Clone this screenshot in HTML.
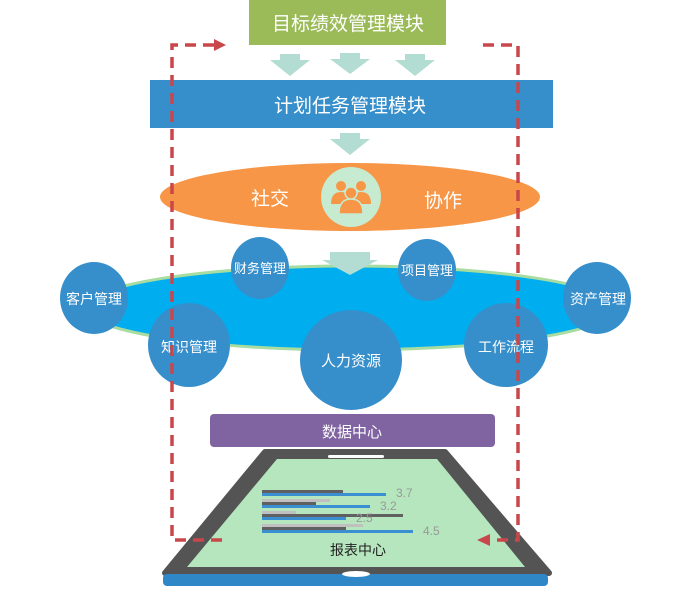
<!DOCTYPE html>
<html><head><meta charset="utf-8"><style>
body{margin:0;width:690px;height:588px;background:#fff;overflow:hidden}
text{font-family:"Liberation Sans","Noto Sans CJK SC",sans-serif}
</style></head><body>
<svg width="690" height="588" viewBox="0 0 690 588" xmlns="http://www.w3.org/2000/svg">
<rect x="249" y="0" width="197" height="45" fill="#9bbb59"/>
<text x="348" y="30" font-size="19" fill="#fff" text-anchor="middle">目标绩效管理模块</text>
<g fill="#b3ddd3">
<polygon points="280,54 300,54 300,60 310,60 290,76 270,60 280,60"/>
<polygon points="340,53 360,53 360,59 370,59 350,74 330,59 340,59"/>
<polygon points="405,54 425,54 425,60 435,60 415,76 395,60 405,60"/>
<polygon points="340,133 360,133 360,139 370,139 350,155 330,139 340,139"/>
</g>
<rect x="150" y="80" width="403" height="48" fill="#368fcb"/>
<text x="350" y="112" font-size="19" fill="#fff" text-anchor="middle">计划任务管理模块</text>
<ellipse cx="350" cy="197" rx="190" ry="34" fill="#f79646"/>
<text x="270" y="205" font-size="19" fill="#fff" text-anchor="middle">社交</text>
<text x="443" y="207" font-size="19" fill="#fff" text-anchor="middle">协作</text>
<circle cx="351" cy="197" r="30" fill="#c6ebd0"/>
<g fill="#f79646">
<circle cx="341" cy="186" r="5"/><circle cx="361" cy="186" r="5"/>
<path d="M331,204 q0,-12 10,-12 q10,0 10,12z"/><path d="M351,204 q0,-12 10,-12 q10,0 10,12z"/>
<circle cx="351" cy="193" r="6" stroke="#c6ebd0" stroke-width="1.5"/>
<path d="M339,214 q0,-15 12,-15 q12,0 12,15z" stroke="#c6ebd0" stroke-width="1.5"/>
</g>
<ellipse cx="350" cy="308" rx="265" ry="42" fill="#00aeef" stroke="#a8dca0" stroke-width="3"/>
<polygon points="330,252 370,252 370,260 378,260 350,275 322,260 330,260" fill="#b3ddd3"/>
<g fill="#368fcb">
<ellipse cx="94" cy="298" rx="34" ry="36"/>
<ellipse cx="260" cy="268" rx="29" ry="31"/>
<ellipse cx="427" cy="270" rx="29" ry="31"/>
<ellipse cx="597" cy="298" rx="34" ry="36"/>
<ellipse cx="189" cy="345" rx="41" ry="42"/>
<ellipse cx="351" cy="360" rx="51" ry="50"/>
<ellipse cx="506" cy="345" rx="42" ry="42"/>
</g>
<g fill="#fff" font-size="14" text-anchor="middle">
<text x="94" y="304">客户管理</text>
<text x="260" y="273" font-size="13">财务管理</text>
<text x="427" y="275" font-size="13">项目管理</text>
<text x="598" y="304">资产管理</text>
<text x="189" y="352">知识管理</text>
<text x="351" y="366" font-size="15">人力资源</text>
<text x="506" y="352">工作流程</text>
</g>
<rect x="210" y="414" width="285" height="33" rx="4" fill="#8064a2"/>
<text x="352" y="437" font-size="15" fill="#fff" text-anchor="middle">数据中心</text>
<polygon points="265,452 445,452 549,573 165,573" fill="#545454" stroke="#545454" stroke-width="6" stroke-linejoin="round"/>
<rect x="163" y="574" width="385" height="12" rx="4" fill="#2f87c7"/>
<polygon points="277,459 437,459 525,567 187,567" fill="#b5e6bd"/>
<rect x="328" y="455" width="56" height="3" rx="1.5" fill="#fff"/>
<ellipse cx="356" cy="574" rx="14" ry="3" fill="#fff"/>
<g>
<rect x="262" y="490" width="81" height="3" fill="#606060"/><rect x="262" y="493" width="124" height="3" fill="#3a8fd0"/>
<rect x="262" y="499" width="68" height="3" fill="#c0c0c0"/><rect x="262" y="502" width="54" height="3" fill="#606060"/><rect x="262" y="505" width="108" height="3" fill="#3a8fd0"/>
<rect x="262" y="511" width="34" height="3" fill="#c0c0c0"/><rect x="262" y="514" width="141" height="3" fill="#606060"/><rect x="262" y="517" width="84" height="3" fill="#3a8fd0"/>
<rect x="262" y="524" width="101" height="3" fill="#c0c0c0"/><rect x="262" y="527" width="84" height="3" fill="#606060"/><rect x="262" y="530" width="151" height="3" fill="#3a8fd0"/>
</g>
<g fill="#999" font-size="12">
<text x="396" y="497">3.7</text><text x="380" y="510">3.2</text><text x="356" y="522">2.5</text><text x="423" y="535">4.5</text>
</g>
<text x="358" y="555" font-size="14" fill="#222" text-anchor="middle">报表中心</text>
<g stroke="#c9474b" stroke-width="3.5" fill="none" stroke-dasharray="11,7">
<path d="M222,540 H172 V45 H215"/>
<path d="M483,45 H518 V540 H490"/>
</g>
<polygon points="214,39 226,45 214,51" fill="#c9474b"/>
<polygon points="490,534 477,540 490,546" fill="#c9474b"/>
</svg>
</body></html>
